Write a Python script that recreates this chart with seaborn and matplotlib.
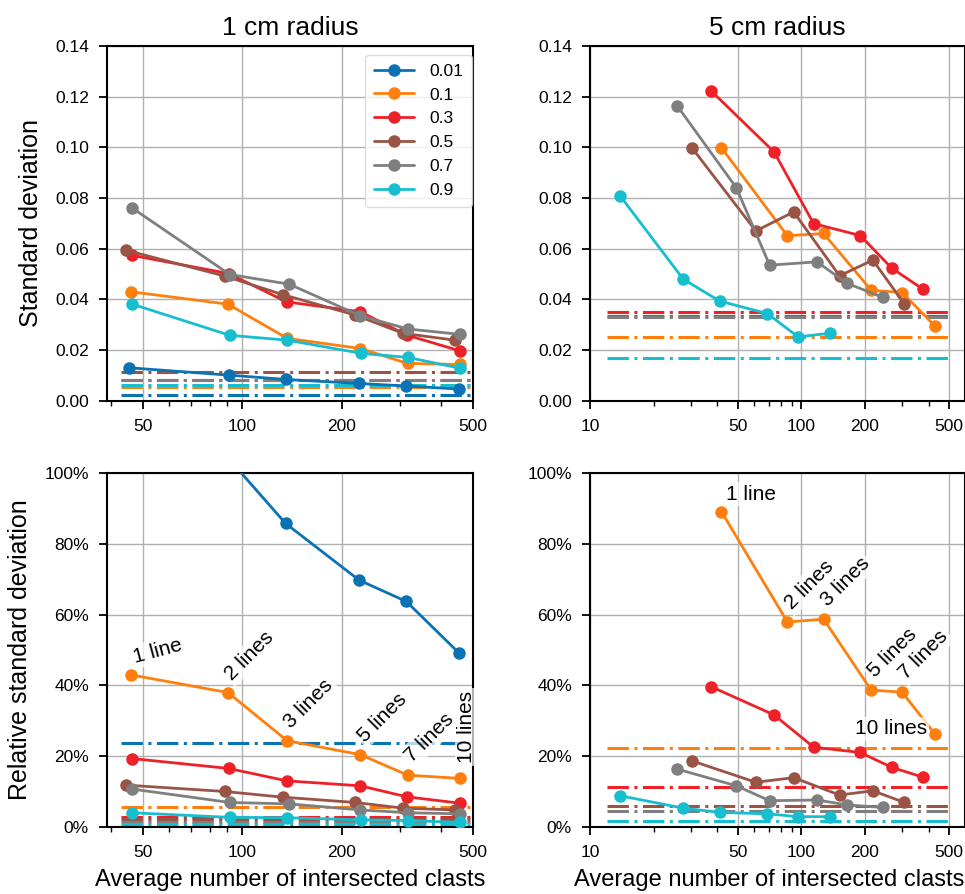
import numpy as np
import pandas as pd
import matplotlib
matplotlib.use("Agg")
import matplotlib.pyplot as plt
from matplotlib.ticker import FixedLocator, FuncFormatter, NullFormatter, LogLocator
import seaborn as sns

# ---------------- data ----------------
levels = ["0.01", "0.1", "0.3", "0.5", "0.7", "0.9"]
colors = ["#0b72b4", "#ff7f0e", "#ee2028", "#9a5446", "#7f7f7f", "#17becf"]

# 1 cm radius: average number of intersected clasts per series
x1_001 = [45.5, 91.0, 135.4, 226, 314, 453]
x1_01 = [46.0, 90.6, 137, 228, 317, 456]
x1_03 = [46.3, 91.0, 136.5, 228, 315, 456]
x1_05 = [44.5, 88.6, 132.6, 220, 307, 440]
x1_07 = [46.3, 91.8, 138.8, 228, 318, 456]
x1_09 = [46.5, 91.8, 137, 229, 317, 458]

sd1_001 = [0.0130, 0.0101, 0.0084, 0.0068, 0.0058, 0.0046]
sd1_01 = [0.0430, 0.0381, 0.0246, 0.0206, 0.0147, 0.0143]
sd1_03 = [0.0574, 0.0502, 0.0390, 0.0351, 0.0259, 0.0197]
sd1_05 = [0.0594, 0.0492, 0.0419, 0.0338, 0.0266, 0.0239]
sd1_07 = [0.0762, 0.0498, 0.0460, 0.0335, 0.0283, 0.0262]
sd1_09 = [0.0381, 0.0258, 0.0239, 0.0187, 0.0171, 0.0128]

rel1_001 = [133.0, 104.0, 85.7, 69.7, 63.7, 49.2]
rel1_01 = [43.0, 38.0, 24.4, 20.5, 14.7, 13.8]
rel1_03 = [19.4, 16.6, 13.1, 11.7, 8.6, 6.8]
rel1_05 = [11.9, 10.1, 8.5, 7.0, 5.4, 4.9]
rel1_07 = [10.8, 7.0, 6.6, 4.9, 4.1, 3.8]
rel1_09 = [4.1, 2.8, 2.7, 2.1, 1.9, 1.4]

# reference levels (dash-dot) for 1 cm radius
ref_sd1 = [0.0022, 0.0056, 0.0081, 0.0113, 0.0083, 0.0062]
ref_rel1 = [23.7, 5.6, 3.0, 2.4, 1.5, 0.8]

# 5 cm radius (no 0.01 series)
x5_01 = [41.9, 85.9, 127.5, 214, 300, 430]
x5_03 = [37.3, 74.3, 114.3, 190, 268, 378]
x5_05 = [30.5, 60.9, 92.0, 151.7, 218, 307.6]
x5_07 = [25.9, 49.3, 70.8, 118.6, 164.9, 243]
x5_09 = [13.9, 27.6, 41.1, 69.1, 96.4, 136]

sd5_01 = [0.0998, 0.0651, 0.0660, 0.0436, 0.0427, 0.0294]
sd5_03 = [0.1224, 0.0982, 0.0699, 0.0652, 0.0523, 0.0439]
sd5_05 = [0.0996, 0.0670, 0.0745, 0.0493, 0.0555, 0.0381]
sd5_07 = [0.1163, 0.0840, 0.0535, 0.0548, 0.0463, 0.0408]
sd5_09 = [0.0808, 0.0480, 0.0393, 0.0344, 0.0252, 0.0266]

rel5_01 = [89.0, 57.9, 58.7, 38.7, 38.1, 26.2]
rel5_03 = [39.7, 31.7, 22.6, 21.1, 16.9, 14.1]
rel5_05 = [18.7, 12.7, 14.0, 9.1, 10.3, 7.0]
rel5_07 = [16.4, 11.7, 7.5, 7.7, 6.3, 5.6]
rel5_09 = [8.9, 5.4, 4.2, 3.8, 3.0, 3.0]

ref_sd5 = [None, 0.0250, 0.0349, 0.0333, 0.0331, 0.0170]
ref_rel5 = [None, 22.3, 11.5, 6.1, 4.6, 1.9]

line_labels = ["1 line", "2 lines", "3 lines", "5 lines", "7 lines", "10 lines"]

# ---------------- assemble series ----------------
series_1cm = [
    (x1_001, sd1_001, rel1_001),
    (x1_01, sd1_01, rel1_01),
    (x1_03, sd1_03, rel1_03),
    (x1_05, sd1_05, rel1_05),
    (x1_07, sd1_07, rel1_07),
    (x1_09, sd1_09, rel1_09),
]
series_5cm = [
    None,
    (x5_01, sd5_01, rel5_01),
    (x5_03, sd5_03, rel5_03),
    (x5_05, sd5_05, rel5_05),
    (x5_07, sd5_07, rel5_07),
    (x5_09, sd5_09, rel5_09),
]

# ---------------- style ----------------
sns.set_theme(style="ticks")
plt.rcParams["font.family"] = ["Liberation Sans", "DejaVu Sans"]
plt.rcParams["axes.edgecolor"] = "black"
plt.rcParams["xtick.color"] = "black"
plt.rcParams["ytick.color"] = "black"
plt.rcParams["text.color"] = "black"
plt.rcParams["axes.labelcolor"] = "black"

W, H = 965, 894
fig = plt.figure(figsize=(W / 100, H / 100), dpi=100)


def px_axes(left, top, right, bottom):
    return fig.add_axes([left / W, 1 - bottom / H, (right - left) / W, (bottom - top) / H])


ax_tl = px_axes(107, 46, 473, 400.7)
ax_tr = px_axes(590, 46, 965, 400.7)
ax_bl = px_axes(107, 472.7, 473, 827.3)
ax_br = px_axes(590, 472.7, 965, 827.3)

dashdot = (0, (7, 1.8, 1, 1.8))
LW = 2.0
MS = 9


def style_axis(ax, xlim, xticks, ylim, yticks, yfmt):
    ax.set_xscale("log")
    ax.set_xlim(*xlim)
    ax.set_ylim(*ylim)
    ax.xaxis.set_major_locator(FixedLocator(xticks))
    ax.xaxis.set_major_formatter(FuncFormatter(lambda v, p: f"{v:g}"))
    ax.xaxis.set_minor_locator(LogLocator(base=10, subs=np.arange(2, 10)))
    ax.xaxis.set_minor_formatter(NullFormatter())
    ax.yaxis.set_major_locator(FixedLocator(yticks))
    ax.yaxis.set_major_formatter(FuncFormatter(yfmt))
    ax.grid(True, which="major", color="#b0b0b0", linewidth=1.0)
    ax.set_axisbelow(True)
    for s in ax.spines.values():
        s.set_linewidth(1.5)
        s.set_color("black")
    ax.tick_params(which="major", direction="out", length=6, width=1.3, labelsize=12.5, pad=7)
    ax.tick_params(which="minor", direction="out", length=3.5, width=1.0)


def draw_panel(ax, series, refs, ref_x0, which):
    for i, s in enumerate(series):
        if s is None:
            continue
        xs, sd, rel = s
        ys = sd if which == "sd" else rel
        df = pd.DataFrame({"x": xs, "y": ys})
        sns.lineplot(data=df, x="x", y="y", ax=ax, color=colors[i], marker="o",
                     markersize=MS, markeredgewidth=0, linewidth=LW,
                     estimator=None, sort=False, label=levels[i], legend=False,
                     zorder=3)
    for i, r in enumerate(refs):
        if r is None:
            continue
        ax.hlines(r, ref_x0, 500, colors=colors[i], linestyles=dashdot,
                  linewidth=2.2, zorder=2)


sd_fmt = lambda v, p: f"{v:.2f}"
pct_fmt = lambda v, p: f"{v:.0f}%"

draw_panel(ax_tl, series_1cm, ref_sd1, 43, "sd")
draw_panel(ax_tr, series_5cm, ref_sd5, 12, "sd")
draw_panel(ax_bl, series_1cm, ref_rel1, 43, "rel")
draw_panel(ax_br, series_5cm, ref_rel5, 12, "rel")

style_axis(ax_tl, (39, 500), [50, 100, 200, 500], (0, 0.14), np.arange(0, 0.141, 0.02), sd_fmt)
style_axis(ax_tr, (10, 595), [10, 50, 100, 200, 500], (0, 0.14), np.arange(0, 0.141, 0.02), sd_fmt)
style_axis(ax_bl, (39, 500), [50, 100, 200, 500], (0, 100), np.arange(0, 101, 20), pct_fmt)
style_axis(ax_br, (10, 595), [10, 50, 100, 200, 500], (0, 100), np.arange(0, 101, 20), pct_fmt)

for ax in (ax_tl, ax_tr, ax_bl, ax_br):
    ax.set_xlabel("")
    ax.set_ylabel("")

ax_tl.set_title("1 cm radius", fontsize=19, pad=8)
ax_tr.set_title("5 cm radius", fontsize=19, pad=8)
ax_tl.set_ylabel("Standard deviation", fontsize=18, labelpad=9)
ax_bl.set_ylabel("Relative standard deviation", fontsize=18, labelpad=9)
ax_bl.set_xlabel("Average number of intersected clasts", fontsize=17)
ax_br.set_xlabel("Average number of intersected clasts", fontsize=17)
ax_bl.xaxis.set_label_coords(0.5, -0.118)
ax_br.xaxis.set_label_coords((769.5 - 590) / 375, -0.118)

# legend
handles = [plt.Line2D([], [], color=c, marker="o", markersize=MS, markeredgewidth=0,
                      linewidth=LW) for c in colors]
leg = ax_tl.legend(handles, levels, loc="upper right", bbox_to_anchor=(0.997, 0.975),
                   borderaxespad=0, fontsize=12.5, labelspacing=0.5, handlelength=2.3,
                   handletextpad=0.9, frameon=True, fancybox=True, borderpad=0.5)
leg.get_frame().set_edgecolor("#d5d5d5")
leg.get_frame().set_linewidth(1.0)

# annotations of number of lines on the 0.1 series
box = dict(boxstyle="square,pad=0.12", facecolor="white", edgecolor="none", alpha=0.7)


def annotate_lines(ax, xs, ys, rotations, last_mode):
    for k, (xv, yv, lab) in enumerate(zip(xs, ys, line_labels)):
        if k == len(xs) - 1 and last_mode == "vertical":
            ax.annotate(lab, (xv, yv), xytext=(5, 11), textcoords="offset points",
                        rotation=90, ha="center", va="bottom", fontsize=15,
                        bbox=box, zorder=5)
        elif k == len(xs) - 1 and last_mode == "left":
            ax.annotate(lab, (xv, yv), xytext=(-6, 0), textcoords="offset points",
                        rotation=0, ha="right", va="baseline", fontsize=15,
                        bbox=box, zorder=5)
        else:
            ax.annotate(lab, (xv, yv), xytext=(3, 8.5), textcoords="offset points",
                        rotation=rotations[k], rotation_mode="anchor",
                        ha="left", va="baseline", fontsize=15, bbox=box, zorder=5)


annotate_lines(ax_bl, x1_01, rel1_01, [15, 45, 45, 45, 45, 90], "vertical")
annotate_lines(ax_br, x5_01, rel5_01, [0, 45, 45, 45, 45, 0], "left")

fig.savefig("out.png", dpi=100)
